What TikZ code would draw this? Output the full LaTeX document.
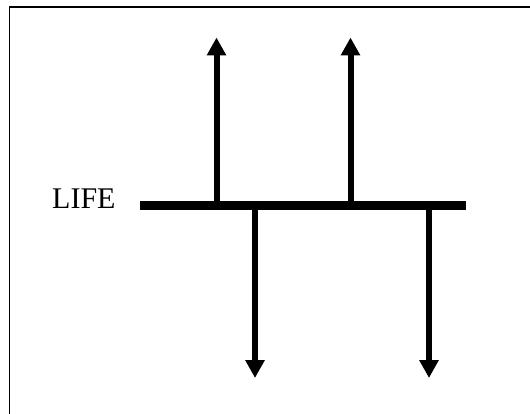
\documentclass[tikz,border=0pt]{standalone}
\usepackage{fontspec}
\setmainfont{Liberation Serif}
\usetikzlibrary{arrows.meta}
\begin{document}
\begin{tikzpicture}[x=1pt,y=-1pt,
  frame/.style={line width=1.5pt},
  bar/.style={line width=9pt},
  shaft/.style={line width=6pt,-{Triangle[width=18.5pt,length=18pt]}},
  lbl/.style={font=\fontsize{30}{34}\selectfont,inner sep=0pt,anchor=base west}]
\useasboundingbox (0,0) rectangle (530,414);
\draw[frame] (9.5,414) -- (9.5,7) -- (530,7);
\node[lbl] (life) at (52,209) {LIFE};
\coordinate (barL) at (140,205.2);
\coordinate (barR) at (466,205.2);
\draw[bar] (barL) -- (barR);
\coordinate (u1s) at (216.5,205.2);
\coordinate (u1e) at (216.5,37.5);
\coordinate (u2s) at (350.5,205.2);
\coordinate (u2e) at (350.5,37.5);
\coordinate (d1s) at (255,205.2);
\coordinate (d1e) at (255,378);
\coordinate (d2s) at (429,205.2);
\coordinate (d2e) at (429,378);
\draw[shaft] (u1s) -- (u1e);
\draw[shaft] (u2s) -- (u2e);
\draw[shaft] (d1s) -- (d1e);
\draw[shaft] (d2s) -- (d2e);
\end{tikzpicture}
\end{document}
